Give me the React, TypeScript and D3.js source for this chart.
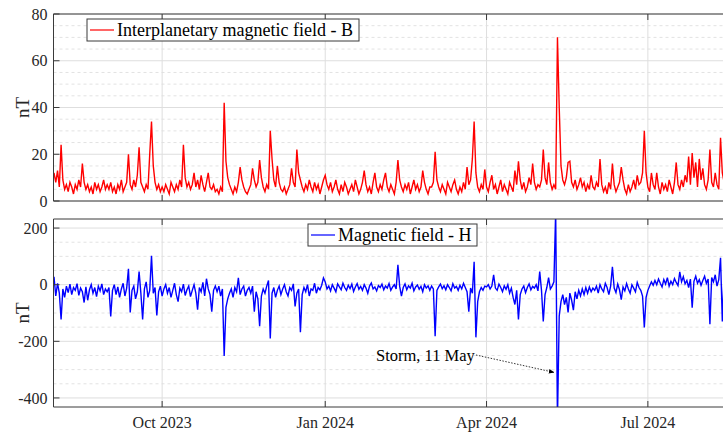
import React from "react";
import * as d3 from "d3";

const startDate = new Date(2023, 7, 1);
const endDate = new Date(2024, 7, 31);

// daily interplanetary magnetic field B (nT), Aug 2023 .. mid Aug 2024, one row per month
const imfB = [
  12, 8, 13, 6, 24, 9, 5, 7, 4, 8, 6, 3, 7, 5, 9, 6, 16, 8, 5, 7, 4, 6, 3, 8, 5, 7, 4, 6, 9, 5, 7,
  5, 8, 4, 6, 3, 7, 5, 9, 4, 6, 8, 20, 7, 5, 9, 6, 11, 23, 8, 6, 4, 7, 5, 20, 34, 15, 8, 5, 7, 4,
  6, 4, 7, 5, 3, 8, 6, 4, 7, 5, 9, 6, 24, 10, 6, 8, 5, 7, 12, 6, 9, 5, 11, 7, 4, 8, 12, 6, 5, 7, 4,
  5, 3, 6, 4, 42, 17, 10, 7, 5, 3, 6, 4, 8, 14.5, 9, 6, 4, 3, 5, 7, 14, 9, 6, 8, 17.5, 10, 6, 4, 7, 5,
  30, 18, 9, 6, 15, 8, 5, 4, 6, 3, 5, 7, 14, 8, 6, 22, 12, 9, 6, 4, 7, 5, 9, 6, 4, 8, 5, 7, 3, 6, 9,
  11, 7, 5, 8, 4, 6, 9, 5, 3, 7, 4, 8, 6, 3, 5, 7, 4, 9, 6, 3, 5, 8, 13, 7, 4, 6, 3, 8, 12, 6, 4,
  7, 5, 9, 12, 6, 4, 7, 5, 3, 8, 17.5, 9, 6, 4, 7, 5, 8, 3, 6, 9, 5, 7, 4, 6, 13, 8, 5, 3, 6,
  6, 8, 21, 9, 6, 4, 7, 5, 3, 8, 6, 4, 7, 9, 5, 3, 6, 4, 8, 5, 14.5, 7, 9, 18, 34, 12, 6, 4, 7, 5, 13.5,
  6, 4, 8, 11, 5, 7, 3, 6, 9, 4, 7, 5, 3, 8, 6, 4, 13, 7, 17, 9, 5, 8, 4, 6, 10, 7, 16, 8, 5, 7,
  6, 9, 22, 10, 7, 16.5, 8, 5, 7, 5, 70, 40, 15, 9, 7, 10, 16.5, 17, 8, 6, 9, 5, 7, 10, 6, 8, 4, 7, 5, 11, 6,
  5, 8, 6, 18, 7, 4, 6, 3, 8, 5, 16, 7, 4, 6, 8, 14.5, 9, 5, 3, 7, 4, 6, 9, 5, 11, 7, 8, 12, 30, 12,
  6, 4, 12, 7, 5, 12, 6, 3, 8, 5, 7, 4, 9, 6, 3, 8, 16.5, 7, 5, 9, 6, 11, 8, 19, 7, 20.5, 10, 16.5, 6, 18, 9,
  14, 7, 5, 9, 22, 8, 6, 12, 7, 5, 27, 12, 8, 10, 6,
];

// daily ground magnetic field H (nT), same days
const fieldH = [
  28, -40, 5, -30, -123, -15, -45, -5, -28, 2, -35, -10, -20, 4, -38, -12, -25, -63, -8, -55, -18, 0, -30, -10, -42, -5, -22, 3, -35, -15, -25,
  -10, -112, -20, 0, -35, -8, -45, -15, 5, -40, -12, 56, -98, -20, -5, -50, -25, 46, -30, -123, -15, 10, -45, -20, 102, -30, -10, -109, -25, -5,
  -40, -15, 0, -30, -10, -45, -20, 5, -35, -60, -12, -25, 2, -38, -18, -5, -42, -20, 0, -30, -88, -10, -25, 8, -40, 21, -15, -35, -95, -20, -5,
  -25, -5, -40, -15, -252, -80, -50, -30, -15, -45, -10, -25, 24, -35, -15, -5, -40, -20, -10, -30, -5, -95, -25, -50, -147, -40, -15, -30, -5, 15,
  -190, -30, -10, -45, -20, -5, -35, -15, 0, -25, -40, -10, -20, 3, -77, -30, -15, -168, -35, -10, -25, 0, -40, -15, -20, 5, -30, -10, -18, -2, 24,
  10, -15, -5, -22, 0, -12, -25, 3, -8, -18, 5, -10, -20, -2, -14, 2, -24, -8, 4, -16, -6, -20, 0, -12, -30, -5, 6, -15, -8, -22, -3,
  -10, 2, -18, -5, -12, 4, -20, -8, 0, -15, 70, -6, -40, -10, 3, -18, -4, -12, 5, -22, -8, -1, -16, -6, -25, 0, -12, -4, -20,
  -5, -15, -182, -20, -8, 2, -14, -4, -18, 0, -10, -22, 3, -12, -6, -20, -2, -15, 5, -10, -25, -95, -12, -30, 81, -186, -60, -25, -10, -20, -5,
  -8, 0, -15, -5, 35, -12, -20, 2, -10, -25, -4, -16, 0, -30, -12, -45, -70, -20, -123, -35, -15, -5, -28, -10, 3, -18, -6, -12, 0, -22,
  46, -20, -130, -35, -10, 25, -15, -5, 10, 260, -480, -110, -60, -35, -70, -45, -98, -30, -55, -90, -25, -50, -20, -40, -15, -35, -10, -30, -8, -25, -12,
  -20, -5, -30, 0, -15, -25, 5, -10, -35, -5, 63, -12, -28, 2, -18, -53, -8, -22, 4, -15, -30, 0, -12, -25, 8, -10, -20, -40, -151, -45,
  -20, -5, 10, -2, 15, 0, 20, 5, -8, 18, 2, 25, -5, 12, 0, 22, 8, -3, 45, 10, 28, 3, 15, -10, 20, -81, 12, 30, 5, 18, -2,
  15, 30, 5, 20, -140, 25, 10, 35, -5, 18, 95, -130, 40, 10, 30,
];

const xTickDates = [new Date(2023, 9, 1), new Date(2024, 0, 1), new Date(2024, 3, 1), new Date(2024, 6, 1)];
const bTicks = [0, 20, 40, 60, 80];
const hTicks = [-400, -200, 0, 200];
const stormDate = new Date(2024, 4, 11);

const serif = "'Liberation Serif', 'Times New Roman', serif";
const axisColor = "#3a3a3a";

const x = d3.scaleTime().domain([startDate, endDate]).range([54, 756]);
const plotLeft = 53.5;
const plotRight = 756;

function Panel({ id, values, color, yScale, ticks, minorStep, legend, showXLabels }) {
  const [y0, y1] = yScale.range();
  const [dMin, dMax] = yScale.domain();
  const minor = d3.range(Math.ceil(dMin / minorStep) * minorStep, dMax, minorStep).filter((v) => !ticks.includes(v));
  const line = d3
    .line<number>()
    .x((_, i) => x(d3.timeDay.offset(startDate, i)))
    .y((d) => yScale(d));

  return (
    <g>
      <clipPath id={id}>
        <rect x={plotLeft} y={y1} width={plotRight - plotLeft} height={y0 - y1} />
      </clipPath>
      <rect x={plotLeft} y={y1} width={plotRight - plotLeft} height={y0 - y1} fill="#fff" />
      {minor.map((v) => (
        <line key={"m" + v} x1={plotLeft} x2={plotRight} y1={yScale(v)} y2={yScale(v)} stroke="#e2e2e2" strokeDasharray="3,3" />
      ))}
      {ticks.map((v) => (
        <line key={"g" + v} x1={plotLeft} x2={plotRight} y1={yScale(v)} y2={yScale(v)} stroke="#dedede" />
      ))}
      {xTickDates.map((d) => (
        <line key={"v" + +d} x1={x(d)} x2={x(d)} y1={y1} y2={y0} stroke="#dedede" />
      ))}
      <path d={line(values)} fill="none" stroke={color} strokeWidth={1.4} strokeLinejoin="miter" clipPath={`url(#${id})`} />
      {/* box */}
      <line x1={plotLeft} x2={plotRight} y1={y1} y2={y1} stroke={axisColor} />
      <line x1={plotLeft} x2={plotRight} y1={y0} y2={y0} stroke={axisColor} />
      <line x1={plotLeft} x2={plotLeft} y1={y1} y2={y0} stroke={axisColor} />
      {ticks.map((v) => (
        <g key={"t" + v}>
          <line x1={plotLeft} x2={plotLeft + 6} y1={yScale(v)} y2={yScale(v)} stroke={axisColor} />
          <text x={plotLeft - 6} y={yScale(v)} dy="0.35em" textAnchor="end" fontFamily={serif} fontSize={16} fill="#262626">
            {v}
          </text>
        </g>
      ))}
      {xTickDates.map((d) => (
        <g key={"xt" + +d}>
          <line x1={x(d)} x2={x(d)} y1={y1} y2={y1 + 6} stroke={axisColor} />
          <line x1={x(d)} x2={x(d)} y1={y0} y2={y0 - 6} stroke={axisColor} />
          {showXLabels && (
            <text x={x(d)} y={y0 + 21} textAnchor="middle" fontFamily={serif} fontSize={16} fill="#262626">
              {d3.timeFormat("%b %Y")(d)}
            </text>
          )}
        </g>
      ))}
      <text
        transform={`translate(29,${(y0 + y1) / 2}) rotate(-90)`}
        textAnchor="middle"
        fontFamily={serif}
        fontSize={19}
        fill="#262626"
      >
        nT
      </text>
      <g>
        <rect x={legend.x} y={legend.y} width={legend.w} height={22} fill="#fff" stroke={axisColor} />
        <line x1={legend.x + 3} x2={legend.x + 27} y1={legend.y + 11} y2={legend.y + 11} stroke={color} strokeWidth={1.2} />
        <text x={legend.x + 30} y={legend.y + 17} fontFamily={serif} fontSize={18} fill="#000">
          {legend.text}
        </text>
      </g>
    </g>
  );
}

export default function App() {
  const yB = d3.scaleLinear().domain([0, 80]).range([201, 14]);
  const yH = d3.scaleLinear().domain([-432, 232]).range([407, 219]);
  const sx = x(stormDate);

  return (
    <svg width={723} height={432} style={{ position: "absolute", left: 0, top: 0 }}>
      <rect width={723} height={432} fill="#fff" />
      <Panel
        id="clipB"
        values={imfB}
        color="#ff0000"
        yScale={yB}
        ticks={bTicks}
        minorStep={5}
        legend={{ x: 87, y: 19, w: 272, text: "Interplanetary magnetic field - B" }}
        showXLabels={false}
      />
      <Panel
        id="clipH"
        values={fieldH}
        color="#0000ff"
        yScale={yH}
        ticks={hTicks}
        minorStep={50}
        legend={{ x: 308, y: 224, w: 169, text: "Magnetic field - H" }}
        showXLabels={true}
      />
      <defs>
        <marker id="arrow" viewBox="0 0 10 10" refX="10" refY="5" markerWidth="7" markerHeight="7" orient="auto">
          <path d="M0,1 L10,5 L0,9 Z" fill="#000" />
        </marker>
      </defs>
      <text x={376} y={361} fontFamily={serif} fontSize={16.5} fill="#000">
        Storm, 11 May
      </text>
      <line
        x1={476}
        y1={355}
        x2={sx - 3}
        y2={yH(-310)}
        stroke="#000"
        strokeWidth={0.8}
        strokeDasharray="1.5,1.5"
        markerEnd="url(#arrow)"
      />
    </svg>
  );
}
